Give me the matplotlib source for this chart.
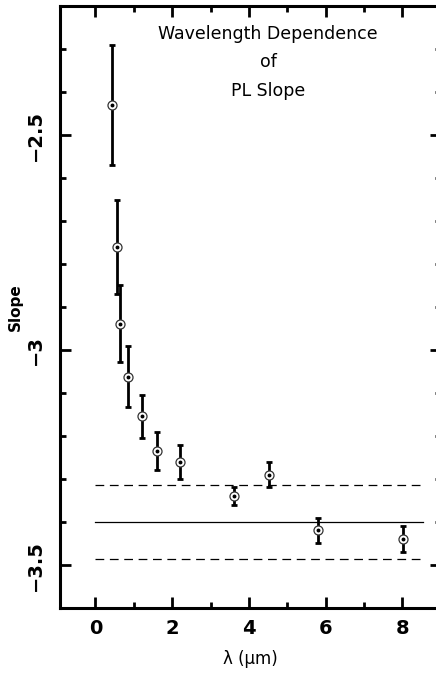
import numpy as np
import matplotlib
matplotlib.use('Agg')
import matplotlib.pyplot as plt
from matplotlib.ticker import MultipleLocator

# wavelength (micron), PL slope and its error
wavelength = [0.44, 0.555, 0.65, 0.86, 1.21, 1.60, 2.20, 3.60, 4.51, 5.80, 8.02]
slope = [-2.430, -2.760, -2.938, -3.061, -3.153, -3.234, -3.260, -3.339, -3.289, -3.419, -3.439]
slope_err = [0.140, 0.110, 0.090, 0.070, 0.050, 0.045, 0.040, 0.020, 0.030, 0.030, 0.030]

mean_slope = -3.400
mean_spread = 0.086
line_x = [0.0, 8.53]

title_lines = 'Wavelength Dependence\nof\nPL Slope'

plt.rcParams['font.family'] = 'DejaVu Sans'

fig = plt.figure(figsize=(4.36, 6.75), dpi=100)
ax = fig.add_axes([0.138, 0.0988, 0.873, 0.892])

ax.errorbar(wavelength, slope, yerr=slope_err, fmt='none', ecolor='black',
            elinewidth=2.0, capsize=2.5, capthick=2.0, zorder=3)
ax.plot(wavelength, slope, 'o', mfc='white', mec='#333333', mew=0.9, ms=6.5, zorder=4)
ax.plot(wavelength, slope, 'o', color='black', ms=1.8, zorder=5)

ax.plot(line_x, [mean_slope, mean_slope], color='black', lw=0.9)
ax.plot(line_x, [mean_slope + mean_spread] * 2, color='black', lw=0.9, dashes=(7, 4.5))
ax.plot(line_x, [mean_slope - mean_spread] * 2, color='black', lw=0.9, dashes=(7, 4.5))

ax.text(4.5, -2.33, title_lines, ha='center', va='center', fontsize=12.5,
        linespacing=1.75)

ax.set_xlim(-0.92, 9.0)
ax.set_ylim(-3.6, -2.2)

ax.xaxis.set_major_locator(MultipleLocator(2))
ax.xaxis.set_minor_locator(MultipleLocator(1))
ax.yaxis.set_major_locator(MultipleLocator(0.5))
ax.yaxis.set_minor_locator(MultipleLocator(0.1))
ax.set_yticks([-3.5, -3.0, -2.5])
ax.set_yticklabels(['\u22123.5', '\u22123', '\u22122.5'])
ax.set_xticks([0, 2, 4, 6, 8])
ax.set_xticklabels(['0', '2', '4', '6', '8'])

ax.tick_params(which='both', direction='in', top=True, right=True, color='black')
ax.tick_params(which='major', length=8, width=2.0)
ax.tick_params(which='minor', length=4, width=2.0)
ax.tick_params(axis='x', which='major', labelsize=14, pad=8)
ax.tick_params(axis='y', which='major', labelsize=14, pad=11)
for lab in ax.get_xticklabels() + ax.get_yticklabels():
    lab.set_fontweight('bold')
for lab in ax.get_yticklabels():
    lab.set_rotation(90)
    lab.set_va('center')

for sp in ax.spines.values():
    sp.set_linewidth(2.2)

ax.set_xlabel('\u03bb (\u03bcm)', fontsize=12, labelpad=8)
ax.set_ylabel('Slope', fontsize=11, fontweight='bold', labelpad=2)

fig.savefig('out.png', dpi=100)
